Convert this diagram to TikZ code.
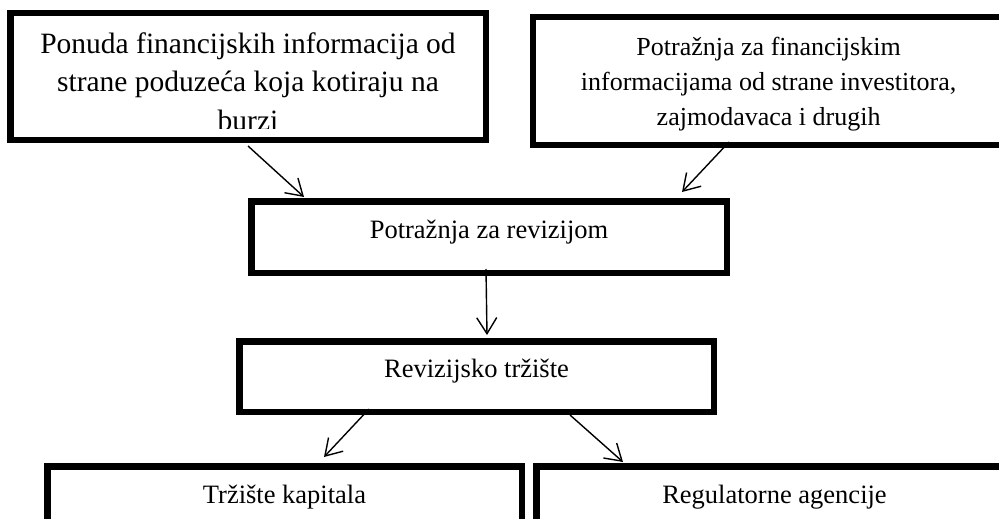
\documentclass[tikz,border=0pt]{standalone}
\usepackage{fontspec}
\setmainfont{Liberation Serif}
\usetikzlibrary{arrows.meta}

\tikzset{
  box/.style={draw, line width=6.5pt, inner sep=0pt, align=center, anchor=base},
  arr/.style={draw, line width=1.4pt, -{Straight Barb[length=16pt,width=20pt]}},
}

\begin{document}
\begin{tikzpicture}[x=1pt,y=-1pt]
      \useasboundingbox (0,0) rectangle (999,519);
      % text of the first box is cut off by its lower border
      \begin{scope}
        \clip (10,13) rectangle (486,128);
        \node[anchor=base, align=center, inner sep=0pt,
              font=\fontsize{29.5}{38.5}\selectfont] (ponudatekst) at (248,130)
          {Ponuda financijskih informacija od\\strane poduzeća koja kotiraju na\\burzi};
      \end{scope}
      \begin{scope}[every node/.style={box}]
        \node[minimum width=475.5pt, text height=116.75pt, text depth=9.75pt] (ponuda) at (248,130) {};
        \node[minimum width=470.75pt, text height=107.75pt, text depth=19.75pt,
              font=\fontsize{26}{35}\selectfont] (trazinfo) at (768.6,125)
          {Potražnja za financijskim\\informacijama od strane investitora,\\zajmodavaca i drugih};
        \node[minimum width=475.5pt, text height=36.75pt, text depth=34.75pt,
              font=\fontsize{26.5}{32}\selectfont] (potraznja) at (489,238) {Potražnja za revizijom};
        \node[minimum width=474.5pt, text height=35.75pt, text depth=34.75pt,
              font=\fontsize{26.5}{32}\selectfont] (trziste) at (476.5,377) {Revizijsko tržište};
        \node[minimum width=474.5pt, text height=36.75pt, text depth=34.75pt,
              font=\fontsize{26.5}{32}\selectfont] (kapital) at (284.5,503) {Tržište kapitala};
        \node[minimum width=476.5pt, text height=36.75pt, text depth=34.75pt,
              font=\fontsize{26.5}{32}\selectfont] (agencije) at (774.5,503) {Regulatorne agencije};
      \end{scope}
      \begin{scope}[every edge/.style={arr}]
        \path ([yshift=-3pt]ponuda.south) edge ([xshift=-185pt,yshift=1pt]potraznja.north);
        \path ([xshift=-39.6pt,yshift=6pt]trazinfo.south) edge ([xshift=193pt,yshift=6pt]potraznja.north);
        \path ([xshift=-3pt,yshift=7pt]potraznja.south) edge ([xshift=10.5pt,yshift=3pt]trziste.north);
        \path ([xshift=-107.5pt,yshift=6pt]trziste.south) edge ([xshift=39.5pt,yshift=6pt]kapital.north);
        \path ([xshift=93.5pt]trziste.south) edge ([xshift=-151.5pt,yshift=1pt]agencije.north);
      \end{scope}
    \end{tikzpicture}
\end{document}
